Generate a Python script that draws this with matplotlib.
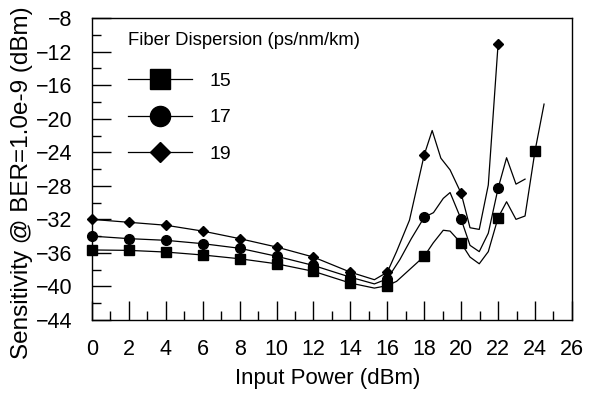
import numpy as np
import matplotlib
matplotlib.use("Agg")
import matplotlib.pyplot as plt

plt.rcParams['font.family'] = ['Liberation Sans', 'DejaVu Sans']

# marker points (every 2 dBm)
x_mk_15 = [0, 2, 4, 6, 8, 10, 12, 14, 16, 18, 20, 22, 24]
y_mk_15 = [-35.65, -35.7, -35.9, -36.25, -36.7, -37.3, -38.2, -39.6, -39.9, -36.4, -34.85, -31.8, -23.85]
x_mk_17 = [0, 2, 4, 6, 8, 10, 12, 14, 16, 18, 20, 22]
y_mk_17 = [-34.0, -34.3, -34.5, -34.9, -35.45, -36.4, -37.5, -38.9, -39.1, -31.75, -32.0, -28.3]
x_mk_19 = [0, 2, 4, 6, 8, 10, 12, 14, 16, 18, 20, 22]
y_mk_19 = [-32.0, -32.35, -32.7, -33.4, -34.3, -35.3, -36.5, -38.3, -38.3, -24.3, -28.9, -11.1]

# measured curves
x_ln_15 = [0, 2, 4, 6, 8, 10, 12, 14, 15.3, 16, 16.5, 18, 18.49, 19.03, 19.4, 20, 20.48, 20.98,
           21.47, 22, 22.46, 22.97, 23.46, 24, 24.49]
y_ln_15 = [-35.65, -35.7, -35.9, -36.25, -36.7, -37.3, -38.2, -39.6, -40.2, -39.9, -39.4, -36.4,
           -34.8, -33.3, -33.4, -34.85, -36.5, -37.3, -35.85, -31.8, -29.9, -32.0, -31.6, -23.85, -18.25]
x_ln_17 = [0, 2, 4, 6, 8, 10, 12, 14, 15.3, 16, 16.68, 17.3, 18, 18.5, 19.03, 19.4, 20, 20.48,
           20.98, 21.47, 22, 22.46, 22.97, 23.46]
y_ln_17 = [-34.0, -34.3, -34.5, -34.9, -35.45, -36.4, -37.5, -38.9, -39.7, -39.1, -36.8, -34.3,
           -31.75, -31.2, -29.5, -28.8, -32.0, -35.1, -35.85, -33.65, -28.3, -24.65, -27.8, -27.2]
x_ln_19 = [0, 2, 4, 6, 8, 10, 12, 14, 15.3, 16, 16.5, 17.2, 18, 18.43, 18.9, 19.4, 20, 20.48,
           20.98, 21.47, 22]
y_ln_19 = [-32.0, -32.35, -32.7, -33.4, -34.3, -35.3, -36.5, -38.3, -39.2, -38.3, -35.85, -32.1,
           -24.3, -21.4, -24.7, -26.1, -28.9, -33.0, -33.2, -27.9, -11.1]

labels = ['15', '17', '19']

fig = plt.figure(figsize=(5.97, 3.95), dpi=100)
ax = fig.add_axes([0.154, 0.190, 0.804, 0.764])

# (line x, line y, marker x, marker y, marker, size, legend size)
series = [(x_ln_15, y_ln_15, x_mk_15, y_mk_15, 's', 6.8, 14.0),
          (x_ln_17, y_ln_17, x_mk_17, y_mk_17, 'o', 7.0, 14.5),
          (x_ln_19, y_ln_19, x_mk_19, y_mk_19, 'D', 5.4, 10.5)]

for (xl, yl, xm, ym, mk, ms, lms), lab in zip(series, labels):
    ax.plot(xl, yl, color='black', lw=0.9, clip_on=False)
    ax.plot(xm, ym, ls='none', marker=mk, ms=ms, color='black', clip_on=False)
    # legend proxy
    ax.plot([], [], color='black', lw=0.9, marker=mk, ms=lms, label=lab)

ax.set_xlim(0, 26)
ax.set_ylim(-44, -8)
ax.set_xticks(np.arange(0, 27, 2))
ax.set_xticks(np.arange(1, 26, 2), minor=True)
ax.set_yticks(np.arange(-44, -7, 4))
ax.set_yticks(np.arange(-42, -8, 4), minor=True)
ax.tick_params(which='both', direction='in', top=False, right=False, width=1,
               labelsize=15.5, pad=14)
ax.tick_params(which='major', length=13.7)
ax.tick_params(which='minor', length=6.8)
for s in ax.spines.values():
    s.set_linewidth(1.0)

ax.set_xlabel('Input Power (dBm)', fontsize=16)
ax.xaxis.set_label_coords(0.492, -0.16)
fig.text(22 / 597, 0.537, 'Sensitivity @ BER=1.0e-9 (dBm)', rotation=90,
         ha='center', va='center', fontsize=17.5)

ax.text(0.075, 0.927, 'Fiber Dispersion (ps/nm/km)', transform=ax.transAxes,
        ha='left', va='center', fontsize=13.3)
leg = ax.legend(loc='upper left', bbox_to_anchor=(0.075, 0.8215), frameon=False,
                fontsize=14, handlelength=3.3, handletextpad=0.9,
                labelspacing=0.98, borderpad=0, borderaxespad=0, numpoints=1)

fig.savefig('out.png', dpi=100)
